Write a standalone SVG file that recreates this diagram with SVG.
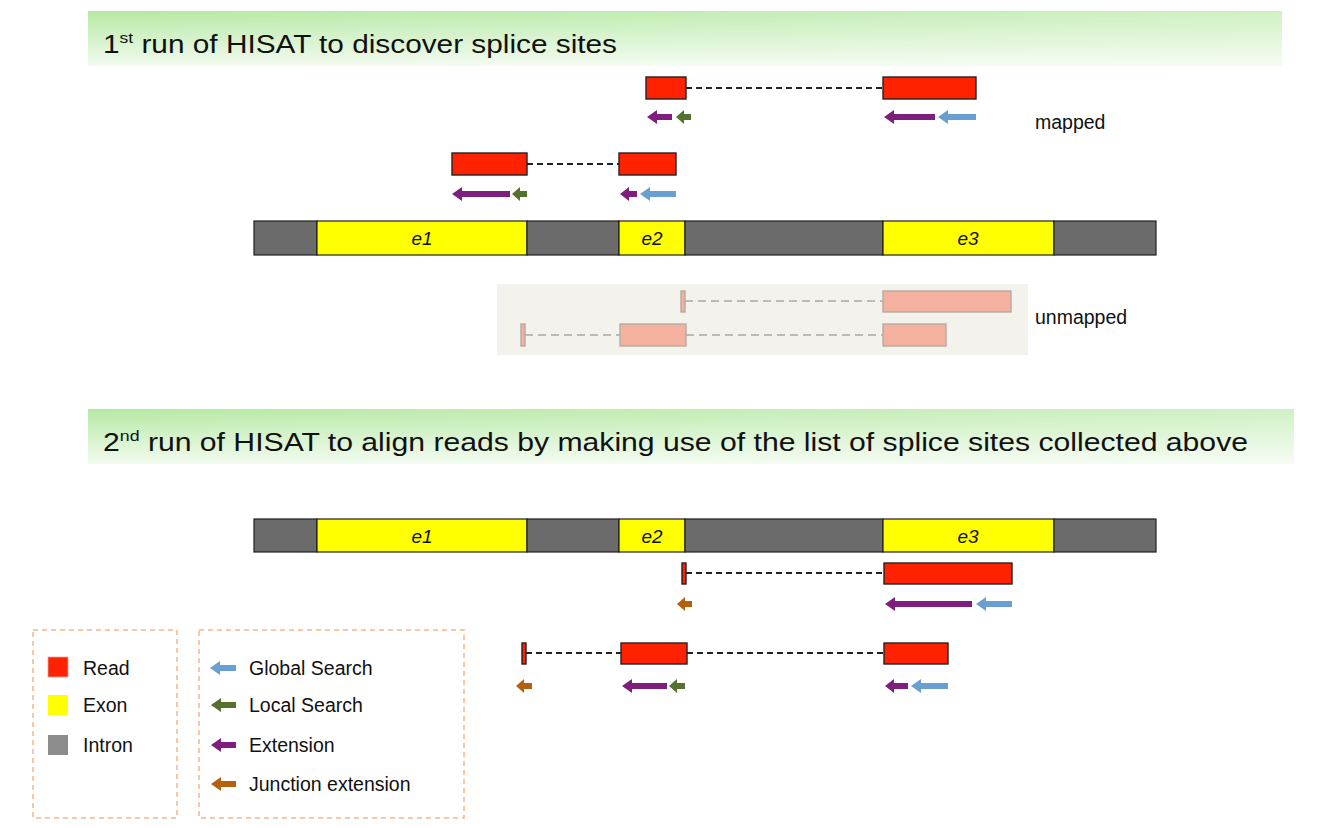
<svg xmlns="http://www.w3.org/2000/svg" width="1330" height="828" viewBox="0 0 1330 828">
<style>
text{font-family:"Liberation Sans","Noto Sans",Arial,sans-serif;fill:#111}
.title{font-size:25.5px}
.lbl{font-size:19.5px}
.ex{font-size:19px;font-style:italic;text-anchor:middle}
.intron{fill:#6b6b6b;stroke:#1e1e1e;stroke-width:1.2}
.exon{fill:#ffff00;stroke:#1e1e1e;stroke-width:1.2}
.read{fill:#ff2200;stroke:#222;stroke-width:1.4}
.uread{fill:#f4b19f;stroke:#b3aca4;stroke-width:1.4}
.dash{stroke:#222;stroke-width:2;stroke-dasharray:6 4;fill:none}
.udash{stroke:#bdb9b3;stroke-width:2.2;stroke-dasharray:8 5;fill:none}
.glob{fill:#6a9fd2}
.loc{fill:#55712e}
.ext{fill:#7e1f7e}
.jun{fill:#b5600e}
.leg{fill:none;stroke:#f6b585;stroke-width:1.5;stroke-dasharray:5 4}
</style>
<defs>
<linearGradient id="bv" x1="0" y1="0" x2="0" y2="1">
<stop offset="0" stop-color="#b6e9a4"/>
<stop offset="1" stop-color="#f2fbef"/>
</linearGradient>
<linearGradient id="bh" x1="0" y1="0" x2="1" y2="0">
<stop offset="0" stop-color="#ffffff" stop-opacity="0"/>
<stop offset="1" stop-color="#ffffff" stop-opacity="0.35"/>
</linearGradient>
</defs>

<g id="banner1">
<rect x="88" y="11" width="1194" height="55" fill="url(#bv)"/>
<rect x="88" y="11" width="1194" height="55" fill="url(#bh)"/>
<text class="title" x="103" y="53" textLength="514" lengthAdjust="spacingAndGlyphs">1<tspan font-size="15" dy="-10">st</tspan><tspan dy="10"> run of HISAT to discover splice sites</tspan></text>
</g>

<g id="banner2">
<rect x="88" y="409" width="1206" height="55" fill="url(#bv)"/>
<rect x="88" y="409" width="1206" height="55" fill="url(#bh)"/>
<text class="title" x="103" y="451" textLength="1145" lengthAdjust="spacingAndGlyphs">2<tspan font-size="15" dy="-10">nd</tspan><tspan dy="10"> run of HISAT to align reads by making use of the list of splice sites collected above</tspan></text>
</g>

<g id="genome1">
<rect class="intron" x="254" y="221" width="63" height="34"/>
<rect class="exon" x="317" y="221" width="210" height="34"/>
<rect class="intron" x="527" y="221" width="92" height="34"/>
<rect class="exon" x="619" y="221" width="66" height="34"/>
<rect class="intron" x="685" y="221" width="198" height="34"/>
<rect class="exon" x="883" y="221" width="171" height="34"/>
<rect class="intron" x="1054" y="221" width="102" height="34"/>
<text class="ex" x="422" y="245">e1</text>
<text class="ex" x="652" y="245">e2</text>
<text class="ex" x="968" y="245">e3</text>
</g>

<g id="genome2">
<rect class="intron" x="254" y="519" width="63" height="33"/>
<rect class="exon" x="317" y="519" width="210" height="33"/>
<rect class="intron" x="527" y="519" width="92" height="33"/>
<rect class="exon" x="619" y="519" width="66" height="33"/>
<rect class="intron" x="685" y="519" width="198" height="33"/>
<rect class="exon" x="883" y="519" width="171" height="33"/>
<rect class="intron" x="1054" y="519" width="102" height="33"/>
<text class="ex" x="422" y="543">e1</text>
<text class="ex" x="652" y="543">e2</text>
<text class="ex" x="968" y="543">e3</text>
</g>

<g id="unmapped-panel">
<rect x="497" y="284" width="531" height="71" fill="#f3f2ec"/>
</g>

<g id="connectors">
<line class="dash" x1="686" y1="88" x2="883" y2="88"/>
<line class="dash" x1="527" y1="164" x2="619" y2="164"/>
<line class="udash" x1="685" y1="301" x2="883" y2="301"/>
<line class="udash" x1="525" y1="335" x2="620" y2="335"/>
<line class="udash" x1="686" y1="335" x2="883" y2="335"/>
<line class="dash" x1="686" y1="573" x2="884" y2="573"/>
<line class="dash" x1="526" y1="653" x2="621" y2="653"/>
<line class="dash" x1="687" y1="653" x2="884" y2="653"/>
</g>

<g id="readA">
<rect class="read" x="646" y="77" width="40" height="22"/>
<rect class="read" x="883" y="77" width="93" height="22"/>
<path class="ext" d="M647 117 L657 110 L657 114 L672 114 L672 120 L657 120 L657 124 Z"/>
<path class="loc" d="M676 117 L684 110 L684 114 L691 114 L691 120 L684 120 L684 124 Z"/>
<path class="ext" d="M884 117 L894 110 L894 114 L935 114 L935 120 L894 120 L894 124 Z"/>
<path class="glob" d="M938 117 L948 110 L948 114 L976 114 L976 120 L948 120 L948 124 Z"/>
</g>

<g id="readB">
<rect class="read" x="452" y="153" width="75" height="22"/>
<rect class="read" x="619" y="153" width="57" height="22"/>
<path class="ext" d="M452 194 L462 187 L462 191 L510 191 L510 197 L462 197 L462 201 Z"/>
<path class="loc" d="M512 194 L520 187 L520 191 L527 191 L527 197 L520 197 L520 201 Z"/>
<path class="ext" d="M620 194 L629 187 L629 191 L637 191 L637 197 L629 197 L629 201 Z"/>
<path class="glob" d="M640 194 L650 187 L650 191 L676 191 L676 197 L650 197 L650 201 Z"/>
</g>

<text class="lbl" x="1035" y="129">mapped</text>

<g id="unmapped">
<rect class="uread" x="681" y="291" width="4" height="21"/>
<rect class="uread" x="883" y="291" width="128" height="21"/>
<rect class="uread" x="521" y="324" width="4" height="22"/>
<rect class="uread" x="620" y="324" width="66" height="22"/>
<rect class="uread" x="883" y="324" width="63" height="22"/>
</g>
<text class="lbl" x="1035" y="324">unmapped</text>

<g id="readC">
<rect class="read" x="682" y="563" width="4" height="21"/>
<rect class="read" x="884" y="563" width="128" height="21"/>
<path class="jun" d="M677 604 L685 597 L685 601 L692 601 L692 607 L685 607 L685 611 Z"/>
<path class="ext" d="M885 604 L895 597 L895 601 L972 601 L972 607 L895 607 L895 611 Z"/>
<path class="glob" d="M976 604 L986 597 L986 601 L1012 601 L1012 607 L986 607 L986 611 Z"/>
</g>

<g id="readD">
<rect class="read" x="522" y="643" width="4" height="21"/>
<rect class="read" x="621" y="643" width="66" height="21"/>
<rect class="read" x="884" y="643" width="64" height="21"/>
<path class="jun" d="M516 686 L524 679 L524 683 L532 683 L532 689 L524 689 L524 693 Z"/>
<path class="ext" d="M622 686 L632 679 L632 683 L667 683 L667 689 L632 689 L632 693 Z"/>
<path class="loc" d="M669 686 L677 679 L677 683 L685 683 L685 689 L677 689 L677 693 Z"/>
<path class="ext" d="M885 686 L894 679 L894 683 L908 683 L908 689 L894 689 L894 693 Z"/>
<path class="glob" d="M911 686 L921 679 L921 683 L948 683 L948 689 L921 689 L921 693 Z"/>
</g>

<g id="legend1">
<rect class="leg" x="33" y="630" width="144" height="188"/>
<rect x="48" y="657" width="20" height="20" fill="#ff2200" stroke="#e8a0a0" stroke-width="0.8"/>
<text class="lbl" x="83" y="675">Read</text>
<rect x="48" y="695" width="20" height="20" fill="#ffff00"/>
<text class="lbl" x="83" y="712">Exon</text>
<rect x="48" y="735" width="20" height="20" fill="#8c8c8c"/>
<text class="lbl" x="83" y="752">Intron</text>
</g>

<g id="legend2">
<rect class="leg" x="199" y="630" width="265" height="188"/>
<path class="glob" d="M210 668 L220 661 L220 665 L236 665 L236 671 L220 671 L220 675 Z"/>
<text class="lbl" x="249" y="675">Global Search</text>
<path class="loc" d="M211 705 L221 698 L221 702 L236 702 L236 708 L221 708 L221 712 Z"/>
<text class="lbl" x="249" y="712">Local Search</text>
<path class="ext" d="M211 745 L221 738 L221 742 L236 742 L236 748 L221 748 L221 752 Z"/>
<text class="lbl" x="249" y="752">Extension</text>
<path class="jun" d="M211 784 L221 777 L221 781 L236 781 L236 787 L221 787 L221 791 Z"/>
<text class="lbl" x="249" y="791">Junction extension</text>
</g>
</svg>
